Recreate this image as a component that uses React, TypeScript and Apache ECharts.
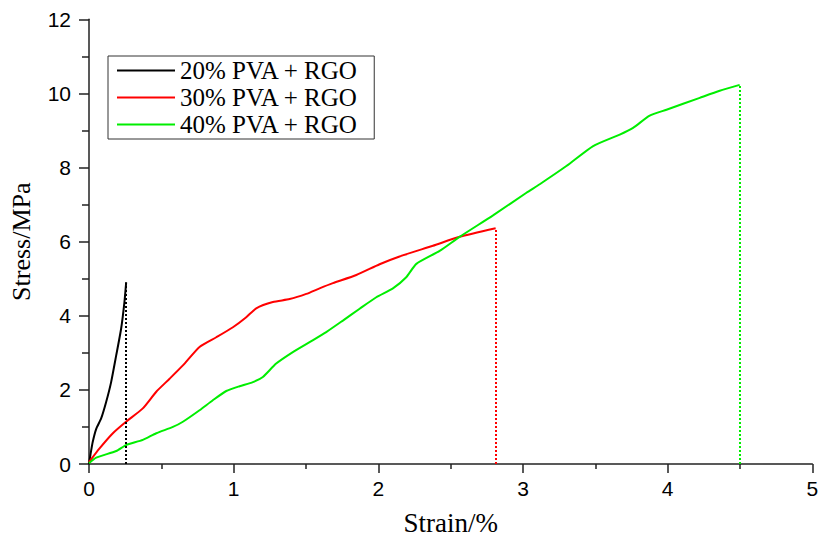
import React, { useEffect, useRef } from "react";
import * as echarts from "echarts";

const strain20 = [0, 0.01, 0.026, 0.05, 0.084, 0.119, 0.153, 0.188, 0.222, 0.245, 0.257];
const stress20 = [0, 0.25, 0.6, 0.95, 1.23, 1.68, 2.21, 2.93, 3.65, 4.37, 4.9];

const strain30 = [0, 0.073, 0.165, 0.256, 0.372, 0.465, 0.557, 0.649, 0.764, 0.88, 0.995, 1.087, 1.156, 1.271, 1.387, 1.502, 1.594, 1.686, 1.848, 2.009, 2.147, 2.378, 2.562, 2.811];
const stress30 = [0.05, 0.42, 0.83, 1.14, 1.5, 1.95, 2.3, 2.66, 3.16, 3.42, 3.69, 3.96, 4.2, 4.37, 4.45, 4.59, 4.74, 4.88, 5.1, 5.39, 5.6, 5.89, 6.13, 6.36];

const strain40 = [0, 0.05, 0.188, 0.256, 0.372, 0.465, 0.58, 0.649, 0.764, 0.856, 0.949, 1.041, 1.133, 1.202, 1.294, 1.409, 1.525, 1.64, 1.755, 1.871, 1.986, 2.101, 2.193, 2.263, 2.424, 2.562, 2.793, 3.024, 3.116, 3.3, 3.485, 3.669, 3.761, 3.876, 3.992, 4.222, 4.36, 4.498];
const stress40 = [0.02, 0.17, 0.35, 0.51, 0.65, 0.83, 1.0, 1.14, 1.45, 1.72, 1.97, 2.1, 2.21, 2.35, 2.71, 3.02, 3.29, 3.56, 3.87, 4.19, 4.5, 4.74, 5.04, 5.4, 5.75, 6.13, 6.71, 7.32, 7.55, 8.04, 8.58, 8.89, 9.07, 9.4, 9.56, 9.88, 10.07, 10.23];

const seriesNames = ["20% PVA + RGO", "30% PVA + RGO", "40% PVA + RGO"];
const seriesColors = ["#000000", "#ff0000", "#00ee00"];

const xTitle = "Strain/%";
const yTitle = "Stress/MPa";

function pairs(xs: number[], ys: number[]) {
  return xs.map((x, i) => [x, ys[i]]);
}

export default function App() {
  const ref = useRef<HTMLDivElement>(null);
  useEffect(() => {
    if (!ref.current) return;
    const chart = echarts.init(ref.current, null, { renderer: "svg" });
    const sets = [
      [strain20, stress20],
      [strain30, stress30],
      [strain40, stress40],
    ];
    const series = sets.map(([xs, ys], i) => {
      const lastX = xs[xs.length - 1];
      const lastY = ys[ys.length - 1];
      return {
        name: seriesNames[i],
        type: "line",
        data: pairs(xs, ys),
        symbol: "none",
        showSymbol: false,
        smooth: 0.2,
        lineStyle: { color: seriesColors[i], width: 2 },
        itemStyle: { color: seriesColors[i] },
        markLine: {
          silent: true,
          symbol: ["none", "none"],
          label: { show: false },
          lineStyle: { color: seriesColors[i], type: "dotted", width: 2 },
          data: [[{ coord: [lastX, 0] }, { coord: [lastX, lastY] }]],
        },
      };
    });
    chart.setOption({
      animation: false,
      backgroundColor: "#ffffff",
      grid: { left: 88.5, right: 9.7, top: 19.3, bottom: 75.3, containLabel: false },
      legend: {
        data: seriesNames,
        orient: "vertical",
        left: 108,
        top: 56,
        icon: "rect",
        itemWidth: 58,
        itemHeight: 2,
        itemGap: 0,
        padding: [1, 16, 1, 9],
        borderColor: "#333",
        borderWidth: 1,
        textStyle: {
          fontFamily: "Liberation Serif",
          fontSize: 25,
          lineHeight: 27,
          color: "#000",
        },
      },
      xAxis: {
        type: "value",
        min: 0,
        max: 5,
        interval: 1,
        name: xTitle,
        nameLocation: "middle",
        nameGap: 45,
        nameTextStyle: {
          fontFamily: "Liberation Serif",
          fontSize: 27,
          color: "#000",
        },
        axisLine: { show: true, lineStyle: { color: "#222", width: 1.5 } },
        axisTick: { show: true, inside: false, length: 9, lineStyle: { color: "#222", width: 1.5 } },
        minorTick: { show: true, splitNumber: 2, length: 5, lineStyle: { color: "#222", width: 1.5 } },
        splitLine: { show: false },
        axisLabel: { fontFamily: "Liberation Sans", fontSize: 21, color: "#000", margin: 14 },
      },
      yAxis: {
        type: "value",
        min: 0,
        max: 12,
        interval: 2,
        name: yTitle,
        nameLocation: "middle",
        nameGap: 55,
        nameTextStyle: {
          fontFamily: "Liberation Serif",
          fontSize: 26,
          color: "#000",
        },
        axisLine: { show: true, lineStyle: { color: "#222", width: 1.5 } },
        axisTick: { show: true, inside: false, length: 10, lineStyle: { color: "#222", width: 1.5 } },
        minorTick: { show: true, splitNumber: 2, length: 7, lineStyle: { color: "#222", width: 1.5 } },
        splitLine: { show: false },
        axisLabel: { fontFamily: "Liberation Sans", fontSize: 21, color: "#000", margin: 18 },
      },
      series,
    });
    return () => chart.dispose();
  }, []);
  return (
    <div
      ref={ref}
      style={{ position: "fixed", left: 0, top: 0, width: 822, height: 541, background: "#fff" }}
    />
  );
}
